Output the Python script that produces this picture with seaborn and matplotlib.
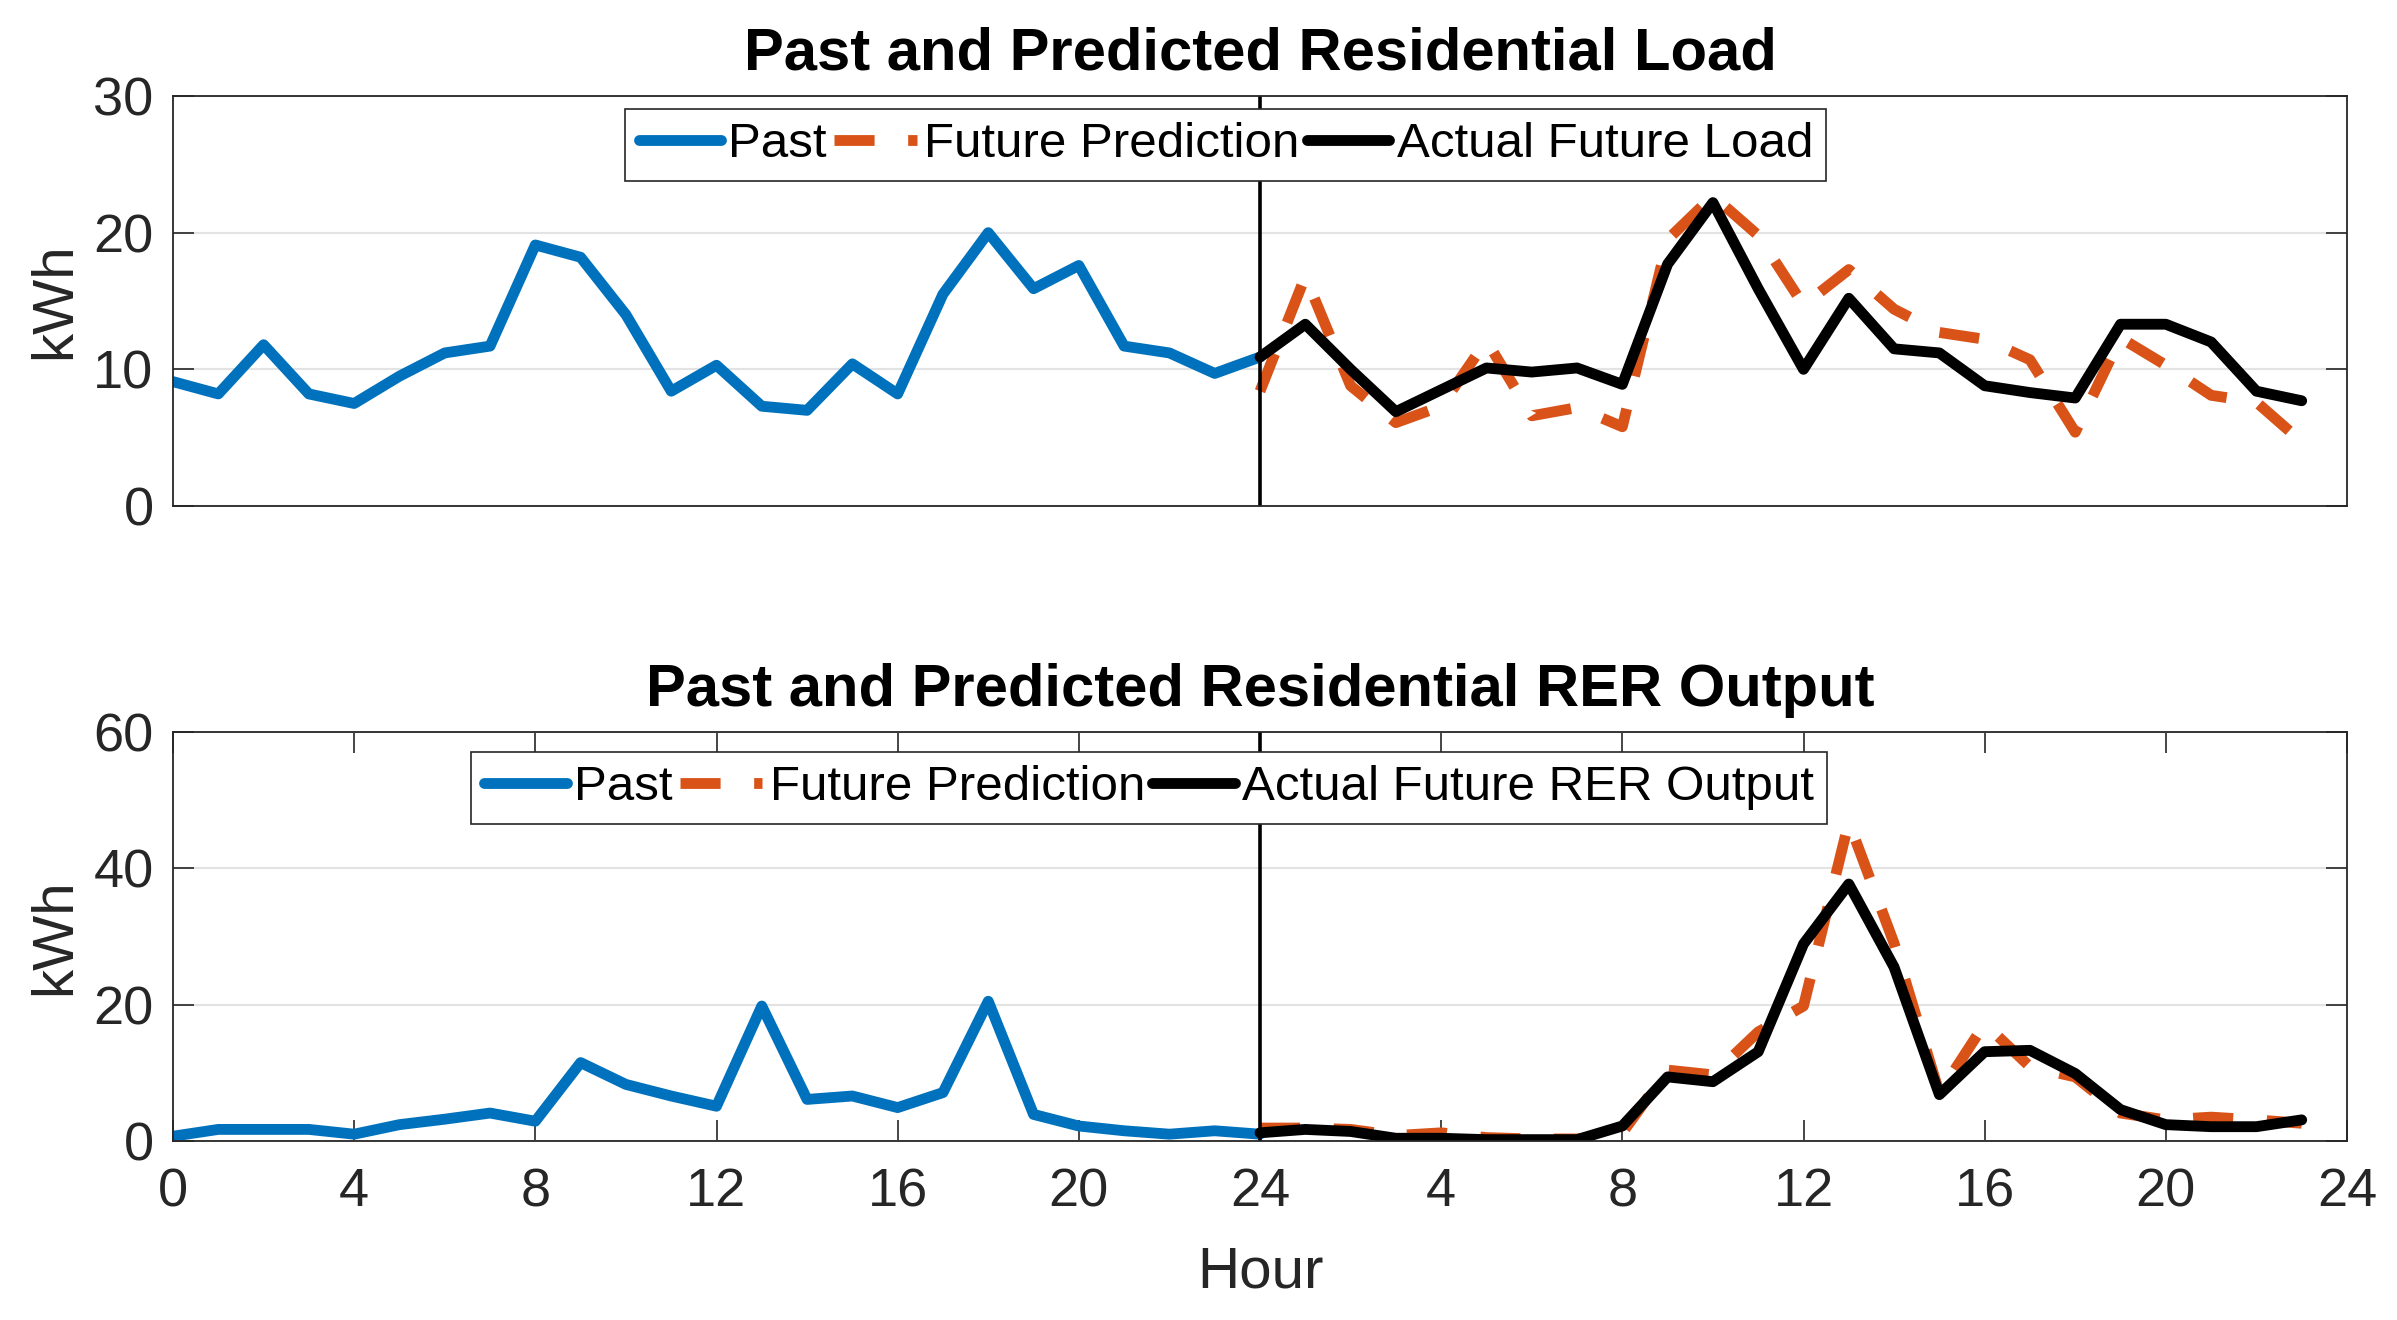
import matplotlib
matplotlib.use('Agg')
import matplotlib.pyplot as plt
import seaborn as sns

# hours
hours_past = list(range(0, 25))
hours_future = list(range(24, 48))
xtick_pos = list(range(0, 49, 4))
xtick_labels = ['0', '4', '8', '12', '16', '20', '24', '4', '8', '12', '16', '20', '24']

# residential load (kWh)
load_past = [9.1, 8.2, 11.8, 8.2, 7.5, 9.5, 11.2, 11.7, 19.1, 18.2, 14.0, 8.4, 10.3,
             7.3, 7.0, 10.4, 8.2, 15.5, 20.0, 15.9, 17.6, 11.7, 11.2, 9.7, 10.9]
load_pred = [8.4, 16.8, 8.8, 6.1, 7.3, 12.1, 6.6, 7.2, 5.8, 19.5, 22.7, 19.8,
             14.7, 17.3, 14.4, 12.7, 12.2, 10.7, 5.4, 12.3, 10.3, 8.1, 7.6, 4.7]
load_actual = [10.9, 13.3, 10.0, 6.9, 8.5, 10.1, 9.8, 10.1, 8.9, 17.7, 22.2, 15.9,
               10.0, 15.2, 11.5, 11.2, 8.8, 8.3, 7.9, 13.3, 13.3, 12.0, 8.4, 7.7]

# residential RER output (kWh)
rer_past = [0.7, 1.7, 1.7, 1.7, 1.0, 2.4, 3.2, 4.1, 2.9, 11.5, 8.3, 6.6, 5.1,
            19.8, 6.1, 6.6, 4.9, 7.1, 20.5, 3.9, 2.2, 1.5, 1.0, 1.5, 1.0]
rer_pred = [1.9, 1.9, 1.7, 0.8, 1.2, 0.5, 0.3, 0.3, 1.2, 10.4, 9.7, 16.0,
            19.8, 46.8, 29.0, 7.0, 17.2, 10.9, 9.4, 4.1, 3.1, 3.5, 3.1, 2.6]
rer_actual = [1.2, 1.7, 1.4, 0.4, 0.4, 0.2, 0.2, 0.2, 2.2, 9.4, 8.7, 13.1,
              28.9, 37.7, 25.5, 6.8, 13.1, 13.3, 9.9, 4.6, 2.4, 2.1, 2.1, 3.1]

BLUE = '#0072BD'
ORANGE = '#D95319'
INK = '#262626'
LW = 7.8

sns.set_theme(style='white')
plt.rcParams['font.family'] = ['Liberation Sans', 'DejaVu Sans']

W, H = 2397, 1320
fig = plt.figure(figsize=(W / 100, H / 100), dpi=100)
ax1 = fig.add_axes([173 / W, 1 - 506 / H, (2347 - 173) / W, (506 - 96) / H])
ax2 = fig.add_axes([173 / W, 1 - 1141 / H, (2347 - 173) / W, (1141 - 732) / H])

panels = [
    (ax1, load_past, load_pred, load_actual, 'Actual Future Load',
     'Past and Predicted Residential Load', [0, 10, 20, 30], (0.7605, 0.968)),
    (ax2, rer_past, rer_pred, rer_actual, 'Actual Future RER Output',
     'Past and Predicted Residential RER Output', [0, 20, 40, 60], (0.761, 0.951)),
]

for ax, past, pred, actual, act_label, title, yticks, leg_anchor in panels:
    sns.lineplot(x=hours_past, y=past, ax=ax, color=BLUE, linewidth=LW, label='Past')
    sns.lineplot(x=hours_future, y=pred, ax=ax, color=ORANGE, linewidth=LW,
                 linestyle='--', label='Future Prediction')
    ax.lines[-1].set_dashes((3.7, 3.1))
    sns.lineplot(x=hours_future, y=actual, ax=ax, color='black', linewidth=LW, label=act_label)
    ax.axvline(24, color='black', linewidth=2.6)

    ax.set_xlim(0, 48)
    ax.set_ylim(yticks[0], yticks[-1])
    ax.set_yticks(yticks)
    ax.set_xticks(xtick_pos)
    ax.yaxis.grid(True, color='#e3e3e3', linewidth=1.5)
    ax.xaxis.grid(False)
    for sp in ax.spines.values():
        sp.set_color(INK)
        sp.set_linewidth(1.3)
    ax.tick_params(axis='y', direction='in', length=15, width=1.2, color=INK,
                   labelsize=39, labelcolor=INK, left=True, right=True, pad=14)
    ax.set_ylabel('kWh', fontsize=42, color=INK, labelpad=8)
    ax.set_title(title, fontsize=43, fontweight='bold', color='black', pad=19)

    leg = ax.legend(loc='upper right', bbox_to_anchor=leg_anchor, ncol=3,
                    fontsize=35.5, frameon=True, fancybox=False, framealpha=1,
                    edgecolor=INK, borderpad=0.27, handlelength=1.67,
                    handletextpad=0.15, columnspacing=0.15, borderaxespad=0,
                    labelcolor='black')
    leg.get_frame().set_linewidth(1.2)

ax1.tick_params(axis='x', bottom=False, top=False, labelbottom=False)
ax1.set_xlabel('')
ax2.tick_params(axis='x', direction='in', length=15, width=1.2, color=INK,
                labelsize=39, labelcolor=INK, bottom=True, top=True, pad=19)
ax2.set_xticklabels(xtick_labels)
ax2.set_xlabel('Hour', fontsize=42, color=INK, labelpad=20)

fig.savefig('out.png', dpi=100)
